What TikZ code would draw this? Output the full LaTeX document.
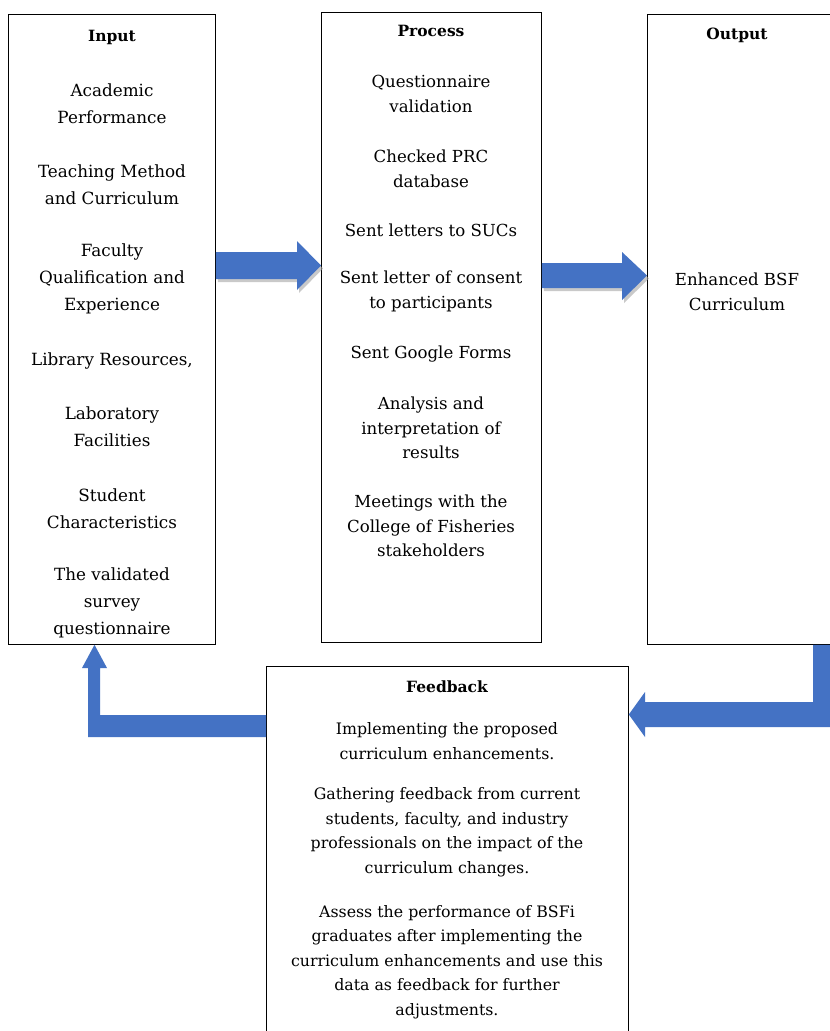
\documentclass[tikz,border=0pt]{standalone}
\usepackage{fontspec}
\setmainfont{DejaVu Serif}
\usetikzlibrary{calc}
\definecolor{arrowblue}{HTML}{4472C4}
\tikzset{
  box/.style={draw=black, line width=0.8pt, anchor=north west, inner sep=0pt},
  ttl/.style={font=\bfseries\fontsize{15.5}{18}\selectfont, anchor=center},
  itemA/.style={align=center, font=\fontsize{16.8}{27}\selectfont, anchor=center, inner sep=0pt},
  itemB/.style={align=center, font=\fontsize{16.6}{24.5}\selectfont, anchor=center, inner sep=0pt},
  itemC/.style={align=center, font=\fontsize{15.8}{24.5}\selectfont, anchor=center, inner sep=0pt},
  bigarrow/.style={fill=arrowblue, draw=none},
  shadowarrow/.style={fill=black!35, opacity=0.6, draw=none}
}
\begin{document}
\begin{tikzpicture}[x=1pt,y=-1pt]
\useasboundingbox (0,0) rectangle (830,1031);
\clip (0,0) rectangle (830,1031);
\fill[white] (0,0) rectangle (830,1031);
% boxes
\node[box, minimum width=207pt, minimum height=630pt] (in) at (8,14) {};
\node[box, minimum width=220pt, minimum height=630pt] (pr) at (321,12) {};
\node[box, minimum width=200pt, minimum height=630pt] (out) at (647,14) {};
\node[box, minimum width=362pt, minimum height=400pt] (fb) at (266,666) {};
% titles
\node[ttl] (tin) at (112,37) {Input};
\node[ttl] (tpr) at (431,31) {Process};
\node[ttl] (tout) at (737,35) {Output};
\node[ttl] (tfb) at (447,687) {Feedback};
% input items
\node[itemA] (i1) at (112,104) {Academic\\Performance};
\node[itemA] (i2) at (112,185) {Teaching Method\\and Curriculum};
\node[itemA] (i3) at (112,279) {Faculty\\Qualification and\\Experience};
\node[itemA] (i4) at (112,361) {Library Resources,};
\node[itemA] (i5) at (112,426.5) {Laboratory\\Facilities};
\node[itemA] (i6) at (112,508.5) {Student\\Characteristics};
\node[itemA] (i7) at (112,603) {The validated\\survey\\questionnaire};
% process items
\node[itemB] (p1) at (431,94) {Questionnaire\\validation};
\node[itemB] (p2) at (431,169) {Checked PRC\\database};
\node[itemB] (p3) at (431,230) {Sent letters to SUCs};
\node[itemB] (p4) at (431,291.5) {Sent letter of consent\\to participants};
\node[itemB] (p5) at (431,354) {Sent Google Forms};
\node[itemB] (p6) at (431,428) {Analysis and\\interpretation of\\results};
\node[itemB] (p7) at (431,526) {Meetings with the\\College of Fisheries\\stakeholders};
% output
\node[itemB] (o1) at (737,292) {Enhanced BSF\\Curriculum};
% feedback items
\node[itemC] (f1) at (447,741) {Implementing the proposed\\curriculum enhancements.};
\node[itemC] (f2) at (447,832) {Gathering feedback from current\\students, faculty, and industry\\professionals on the impact of the\\curriculum changes.};
\node[itemC] (f3) at (447,962) {Assess the performance of BSFi\\graduates after implementing the\\curriculum enhancements and use this\\data as feedback for further\\adjustments.};
% arrow input -> process (with shadow)
\fill[shadowarrow] ([shift={(2,3)}]in.east |- 0,252) -- ([shift={(2,3)}]297,252) -- ([shift={(2,3)}]297,241) -- ([shift={(2,3)}]pr.west |- 0,265.5) -- ([shift={(2,3)}]297,290) -- ([shift={(2,3)}]297,279) -- ([shift={(2,3)}]in.east |- 0,279) -- cycle;
\fill[bigarrow] (in.east |- 0,252) -- (297,252) -- (297,241) -- (pr.west |- 0,265.5) -- (297,290) -- (297,279) -- (in.east |- 0,279) -- cycle;
% arrow process -> output
\fill[shadowarrow] ([shift={(2,3)}]pr.east |- 0,263) -- ([shift={(2,3)}]622,263) -- ([shift={(2,3)}]622,252) -- ([shift={(2,3)}]out.west |- 0,275.5) -- ([shift={(2,3)}]622,300) -- ([shift={(2,3)}]622,288) -- ([shift={(2,3)}]pr.east |- 0,288) -- cycle;
\fill[bigarrow] (pr.east |- 0,263) -- (622,263) -- (622,252) -- (out.west |- 0,275.5) -- (622,300) -- (622,288) -- (pr.east |- 0,288) -- cycle;
% arrow output -> feedback
\fill[bigarrow] (813,0 |- out.south) -- (840,0 |- out.south) -- (840,727) -- (645,727) -- (645,737) -- (fb.east |- 0,714.5) -- (645,692) -- (645,702) -- (813,702) -- cycle;
% arrow feedback -> input
\fill[bigarrow] (fb.west |- 0,715) -- (fb.west |- 0,737) -- (88,737) -- (88,668) -- (82,668) -- (94.5,0 |- in.south) -- (107,668) -- (100,668) -- (100,715) -- cycle;
\end{tikzpicture}
\end{document}
